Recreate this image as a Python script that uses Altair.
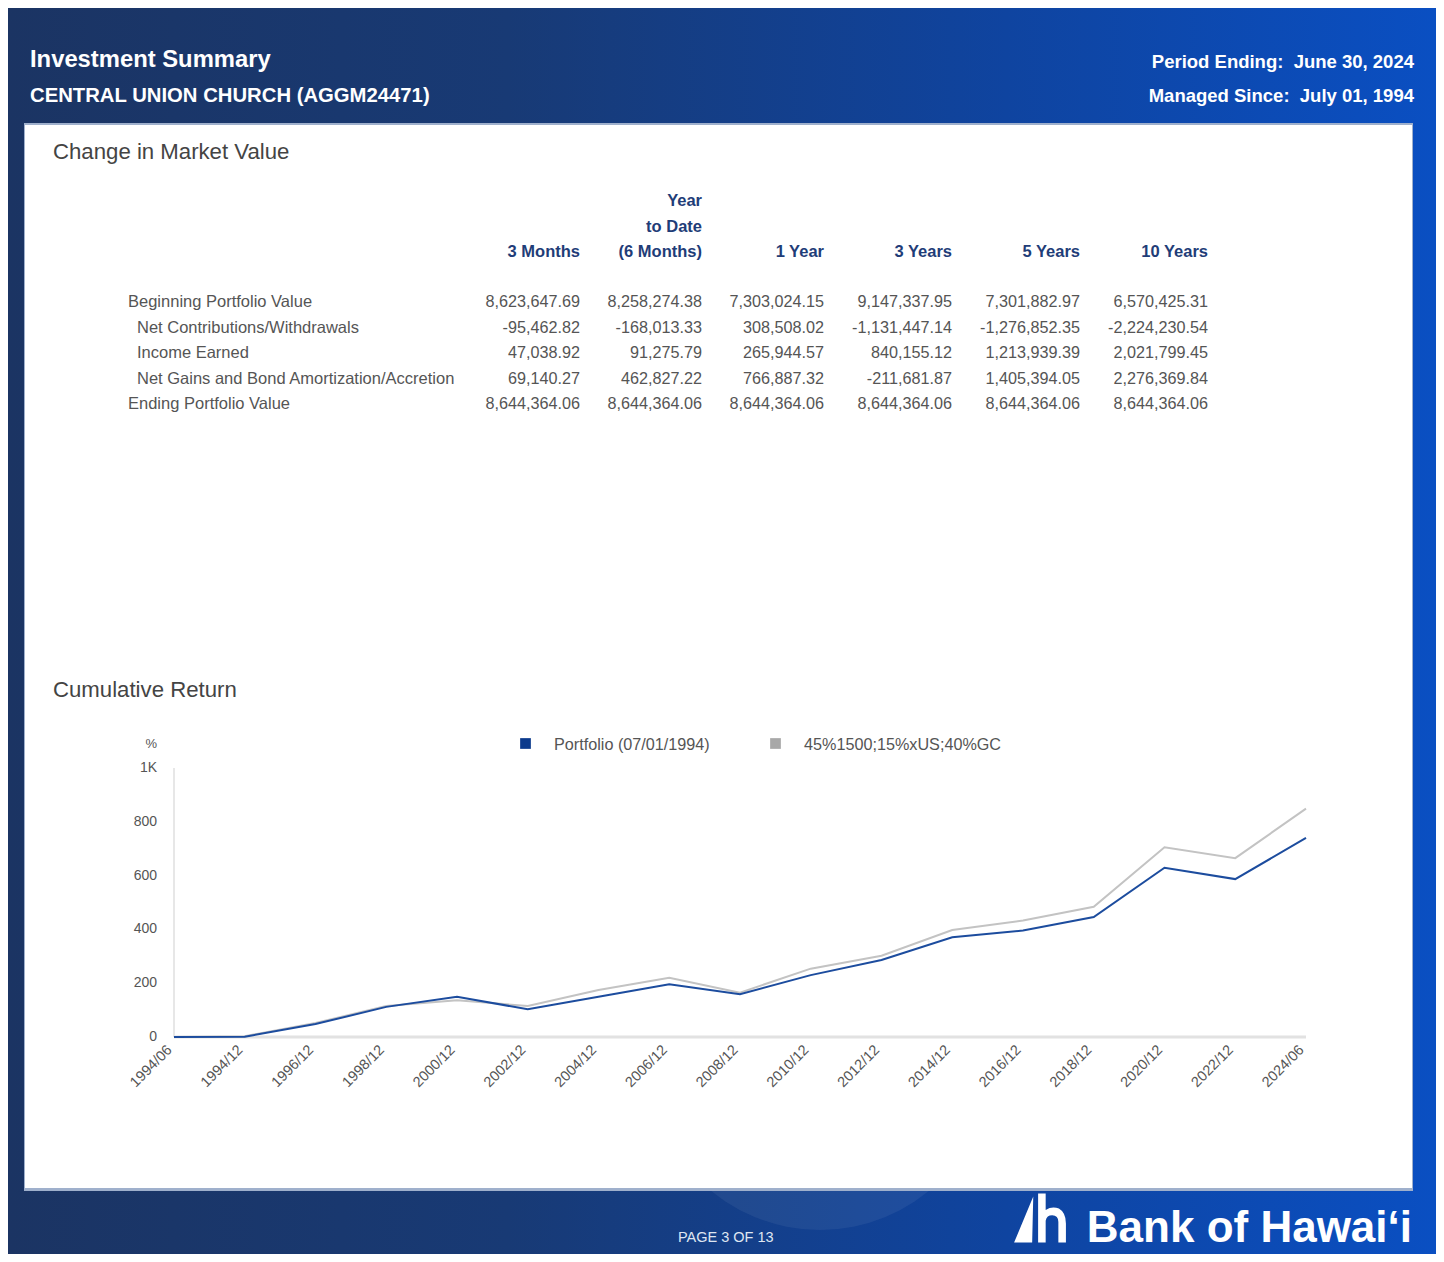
import altair as alt
import pandas as pd

# ------------------------------------------------------------------ data
header_title = "Investment Summary"
client_name = "CENTRAL UNION CHURCH (AGGM24471)"
period_ending = "Period Ending:\u00a0 June 30, 2024"
managed_since = "Managed Since:\u00a0 July 01, 1994"
section_table = "Change in Market Value"
section_chart = "Cumulative Return"
page_label = "PAGE 3 OF 13"
brand_name = "Bank of Hawai\u2018i"

period_headers = [
    ["3 Months"],
    ["Year", "to Date", "(6 Months)"],
    ["1 Year"],
    ["3 Years"],
    ["5 Years"],
    ["10 Years"],
]
row_labels = [
    "Beginning Portfolio Value",
    "Net Contributions/Withdrawals",
    "Income Earned",
    "Net Gains and Bond Amortization/Accretion",
    "Ending Portfolio Value",
]
row_levels = [0, 1, 1, 1, 0]
beginning_value = [8623647.69, 8258274.38, 7303024.15, 9147337.95, 7301882.97, 6570425.31]
net_contributions = [-95462.82, -168013.33, 308508.02, -1131447.14, -1276852.35, -2224230.54]
income_earned = [47038.92, 91275.79, 265944.57, 840155.12, 1213939.39, 2021799.45]
net_gains = [69140.27, 462827.22, 766887.32, -211681.87, 1405394.05, 2276369.84]
ending_value = [8644364.06, 8644364.06, 8644364.06, 8644364.06, 8644364.06, 8644364.06]

dates = ["1994/06", "1994/12", "1996/12", "1998/12", "2000/12", "2002/12", "2004/12",
         "2006/12", "2008/12", "2010/12", "2012/12", "2014/12", "2016/12", "2018/12",
         "2020/12", "2022/12", "2024/06"]
portfolio = [0, 1, 48, 112, 150, 103, 150, 196, 159, 230, 286, 371, 396, 446, 629, 587, 740]
benchmark = [0, 3, 52, 115, 137, 115, 175, 220, 165, 254, 302, 398, 433, 484, 705, 665, 849]
series_names = ["Portfolio (07/01/1994)", "45%1500;15%xUS;40%GC"]
y_ticks = [0, 200, 400, 600, 800, 1000]
y_tick_labels = ["0", "200", "400", "600", "800", "1K"]

# ------------------------------------------------------------------ tables
value_rows = [beginning_value, net_contributions, income_earned, net_gains, ending_value]
cells = pd.DataFrame([
    {"row": r, "col": c, "txt": f"{v:,.2f}"}
    for r, vals in enumerate(value_rows) for c, v in enumerate(vals)
])
labels_df = pd.DataFrame({"row": list(range(len(row_labels))), "label": row_labels, "level": row_levels})
header_df = pd.DataFrame([
    {"col": c, "line": len(lines) - 1 - i, "txt": t}
    for c, lines in enumerate(period_headers) for i, t in enumerate(lines)
])
lines_df = pd.DataFrame(
    [{"date": d, "series": series_names[0], "value": v} for d, v in zip(dates, portfolio)]
    + [{"date": d, "series": series_names[1], "value": v} for d, v in zip(dates, benchmark)]
)
legend_df = pd.DataFrame({"series": series_names, "idx": [0, 1]})
yticks_df = pd.DataFrame({"tick": y_ticks, "lab": y_tick_labels})
xticks_df = pd.DataFrame({"date": dates})
one = pd.DataFrame({"k": [0]})

# ------------------------------------------------------------------ layout
W, H = 1428, 1246
FONT = "Liberation Sans"
WHITE = "#ffffff"
GREY_TXT = "#555555"
TITLE_TXT = "#444444"
HEAD_BLUE = "#1f3d78"


def txt(text, x, y, size, color, weight="normal", align="left", baseline="middle", font=FONT):
    return alt.Chart(one).mark_text(
        text=text, font=font, fontSize=size, fontWeight=weight, color=color,
        align=align, baseline=baseline,
    ).encode(x=alt.value(x), y=alt.value(y))


def box(x, x2, y, y2, **kw):
    return alt.Chart(one).mark_rect(**kw).encode(
        x=alt.value(x), x2=alt.value(x2), y=alt.value(y), y2=alt.value(y2))


bg = box(0, W, 0, H, fill=alt.LinearGradient(
    gradient="linear", x1=0, x2=1, y1=0, y2=0,
    stops=[alt.GradientStop(color="#1b3463", offset=0),
           alt.GradientStop(color="#183a75", offset=0.35),
           alt.GradientStop(color="#0f44a0", offset=0.7),
           alt.GradientStop(color="#0a4fc2", offset=1)]))
glow = alt.Chart(one).mark_point(shape="circle", filled=True, fill="white", opacity=0.06,
                                 size=342 * 342).encode(x=alt.value(812), y=alt.value(1051))
panel_shadow = box(16, 1405, 115, 1183, fill="#9fb0cc")
panel = box(17, 1404, 117, 1180, fill="white")

header = [
    txt(header_title, 22, 52, 23.8, WHITE, "bold"),
    txt(client_name, 22, 88, 20.3, WHITE, "bold"),
    txt(period_ending, 1406, 54, 18.5, WHITE, "bold", align="right"),
    txt(managed_since, 1406, 88, 18.5, WHITE, "bold", align="right"),
    txt(section_table, 45, 144, 22.2, TITLE_TXT),
    txt(section_chart, 45, 682, 22.2, TITLE_TXT),
    txt(page_label, 670, 1230, 14.5, "#dfe6f2"),
    txt(brand_name, 1404, 1234, 44, WHITE, "bold", align="right", baseline="alphabetic"),
]
logo_path = ("M -0.96 0.91 L -0.25 -0.8 L -0.29 0.91 Z "
             "M -0.07 0.91 L -0.07 -0.91 L 0.21 -0.91 L 0.21 -0.3 Q 0.45 -0.45 0.7 -0.35 "
             "Q 0.96 -0.2 0.96 0.2 L 0.96 0.91 L 0.68 0.91 L 0.68 0.15 Q 0.68 -0.1 0.45 -0.1 "
             "Q 0.25 -0.1 0.21 0.1 L 0.21 0.91 Z")
logo = alt.Chart(one).mark_point(shape=logo_path, filled=True, fill="white", opacity=1,
                                 size=54 * 54).encode(x=alt.value(1032), y=alt.value(1210))

col_scale = alt.Scale(domain=[0, 2, 5], range=[572, 816, 1200], nice=False, zero=False)
row_scale = alt.Scale(domain=[0, 4], range=[294, 396], nice=False, zero=False)
line_scale = alt.Scale(domain=[0, 2], range=[244, 193], nice=False, zero=False)

table_head = alt.Chart(header_df).mark_text(
    font=FONT, fontSize=16.5, fontWeight="bold", color=HEAD_BLUE, align="right", baseline="middle"
).encode(x=alt.X("col:Q", scale=col_scale, axis=None),
         y=alt.Y("line:Q", scale=line_scale, axis=None), text="txt:N")
table_vals = alt.Chart(cells).mark_text(
    font=FONT, fontSize=16.2, color=GREY_TXT, align="right", baseline="middle"
).encode(x=alt.X("col:Q", scale=col_scale, axis=None),
         y=alt.Y("row:Q", scale=row_scale, axis=None), text="txt:N")
row_main = alt.Chart(labels_df).transform_filter("datum.level == 0").mark_text(
    font=FONT, fontSize=16.5, color=GREY_TXT, align="left", baseline="middle"
).encode(x=alt.value(120), y=alt.Y("row:Q", scale=row_scale, axis=None), text="label:N")
row_sub = alt.Chart(labels_df).transform_filter("datum.level == 1").mark_text(
    font=FONT, fontSize=16.5, color=GREY_TXT, align="left", baseline="middle"
).encode(x=alt.value(129), y=alt.Y("row:Q", scale=row_scale, axis=None), text="label:N")

# ------------------------------------------------------------------ line chart
x_scale = alt.Scale(type="point", domain=dates, range=[166, 1298], padding=0)
y_scale = alt.Scale(domain=[0, 1000], range=[1029, 760], nice=False, zero=False)
line_colors = alt.Scale(domain=series_names, range=["#1c4c9e", "#c3c3c3"])
legend_colors = alt.Scale(domain=series_names, range=["#0b3a8c", "#a8a8a8"])

y_axis_line = alt.Chart(one).mark_rule(color="#cfcfcf", strokeWidth=1).encode(
    x=alt.value(166), y=alt.value(760), y2=alt.value(1029))
x_axis_line = alt.Chart(one).mark_rule(color="#e2e2e2", strokeWidth=3).encode(
    x=alt.value(166), x2=alt.value(1298), y=alt.value(1029))


def series_line(name):
    return alt.Chart(lines_df).transform_filter(alt.datum.series == name).mark_line(
        strokeWidth=2
    ).encode(x=alt.X("date:N", scale=x_scale, axis=None),
             y=alt.Y("value:Q", scale=y_scale, axis=None),
             color=alt.Color("series:N", scale=line_colors, legend=None))


bench_line = series_line(series_names[1])
port_line = series_line(series_names[0])

ytick_text = alt.Chart(yticks_df).mark_text(
    font=FONT, fontSize=14, color=GREY_TXT, align="right", baseline="middle"
).encode(x=alt.value(149), y=alt.Y("tick:Q", scale=y_scale, axis=None), text="lab:N")
pct_text = txt("%", 149, 736, 13, GREY_TXT, align="right")
xtick_text = alt.Chart(xticks_df).mark_text(
    font=FONT, fontSize=14.5, color=GREY_TXT, align="right", baseline="middle", angle=315,
    xOffset=-4
).encode(x=alt.X("date:N", scale=x_scale, axis=None), y=alt.value(1040), text="date:N")

leg_scale = alt.Scale(domain=[0, 1], range=[517.5, 767.5], nice=False, zero=False)
leg_sym = alt.Chart(legend_df).mark_square(size=115, opacity=1).encode(
    x=alt.X("idx:Q", scale=leg_scale, axis=None), y=alt.value(735.5),
    color=alt.Color("series:N", scale=legend_colors, legend=None))
leg_txt = alt.Chart(legend_df).mark_text(
    font=FONT, fontSize=16.2, color=GREY_TXT, align="left", baseline="middle", xOffset=28.5
).encode(x=alt.X("idx:Q", scale=leg_scale, axis=None), y=alt.value(737), text="series:N")

chart = alt.layer(
    bg, glow, panel_shadow, panel, *header, logo,
    table_head, table_vals, row_main, row_sub,
    y_axis_line, x_axis_line, bench_line, port_line,
    ytick_text, pct_text, xtick_text, leg_sym, leg_txt,
).resolve_scale(x="independent", y="independent", color="independent").properties(
    width=W, height=H, padding=0, autosize="none", background="white"
).configure_view(stroke=None)

chart.save("out.html", embed_options={"renderer": "svg", "actions": False})
